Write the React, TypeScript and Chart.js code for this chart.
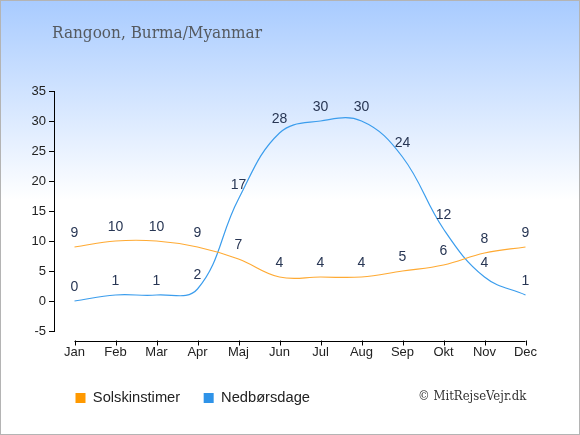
import React, { useEffect, useRef } from "react";
import { Chart, registerables } from "chart.js";

Chart.register(...registerables);

const months = ["Jan", "Feb", "Mar", "Apr", "Maj", "Jun", "Jul", "Aug", "Sep", "Okt", "Nov", "Dec"];
const sunHours = [9, 10, 10, 9, 7, 4, 4, 4, 5, 6, 8, 9];
const rainDays = [0, 1, 1, 2, 17, 28, 30, 30, 24, 12, 4, 1];
const yMin = -5;
const yMax = 35;
const yStep = 5;
const titleText = "Rangoon, Burma/Myanmar";
const sunLabel = "Solskinstimer";
const rainLabel = "Nedbørsdage";
const copyrightText = "© MitRejseVejr.dk";

const SANS = "'Liberation Sans', Arial, sans-serif";
const SERIF_COND = "'DejaVu Serif Condensed', 'DejaVu Serif', serif";

const backgroundPlugin = {
  id: "bgGradient",
  beforeDraw(chart: any) {
    const { ctx, width, height } = chart;
    ctx.save();
    const g = ctx.createLinearGradient(0, 0, 0, 200);
    g.addColorStop(0, "#a8cbff");
    g.addColorStop(1, "#ffffff");
    ctx.fillStyle = g;
    ctx.fillRect(0, 0, width, height);
    ctx.strokeStyle = "#b4b4b4";
    ctx.lineWidth = 1;
    ctx.strokeRect(0.5, 0.5, width - 1, height - 1);
    ctx.restore();
  },
};

const xAxisPlugin = {
  id: "xAxisLine",
  afterDraw(chart: any) {
    const { ctx, chartArea } = chart;
    const xs = chart.scales.x;
    const y = Math.round(chartArea.bottom + 10) + 0.5;
    const x0 = xs.getPixelForValue(0);
    const x1 = xs.getPixelForValue(months.length - 1);
    ctx.save();
    ctx.strokeStyle = "#000";
    ctx.lineWidth = 1;
    ctx.beginPath();
    ctx.moveTo(x0, y);
    ctx.lineTo(x1, y);
    for (let i = 0; i < months.length; i++) {
      const x = Math.round(xs.getPixelForValue(i)) + 0.5;
      ctx.moveTo(x, y - 1);
      ctx.lineTo(x, y + 4);
    }
    ctx.stroke();
    ctx.restore();
  },
};

const dataLabelPlugin = {
  id: "dataLabels",
  afterDatasetsDraw(chart: any) {
    const { ctx } = chart;
    ctx.save();
    ctx.font = `14px ${SANS}`;
    ctx.fillStyle = "#283654";
    ctx.textAlign = "center";
    ctx.textBaseline = "middle";
    chart.data.datasets.forEach((ds: any, di: number) => {
      const meta = chart.getDatasetMeta(di);
      meta.data.forEach((pt: any, i: number) => {
        ctx.fillText(String(ds.data[i]), pt.x, pt.y - 14);
      });
    });
    ctx.restore();
  },
};

const copyrightPlugin = {
  id: "copyright",
  afterDraw(chart: any) {
    const { ctx } = chart;
    ctx.save();
    ctx.font = `13px ${SERIF_COND}`;
    ctx.fillStyle = "#333";
    ctx.textAlign = "left";
    ctx.textBaseline = "middle";
    ctx.fillText(copyrightText, 418, 397);
    ctx.restore();
  },
};

export default function App() {
  const ref = useRef<HTMLCanvasElement | null>(null);
  useEffect(() => {
    if (!ref.current) return;
    const chart = new Chart(ref.current, {
      type: "line",
      data: {
        labels: months,
        datasets: [
          {
            label: sunLabel,
            data: sunHours,
            borderColor: "#ffaa33",
            backgroundColor: "#ff9900",
            borderWidth: 1.2,
            pointRadius: 0,
            tension: 0.4,
            fill: false,
          },
          {
            label: rainLabel,
            data: rainDays,
            borderColor: "#3b9ded",
            backgroundColor: "#2f93e8",
            borderWidth: 1.2,
            pointRadius: 0,
            tension: 0.4,
            fill: false,
          },
        ],
      },
      options: {
        responsive: false,
        animation: false,
        devicePixelRatio: 1,
        layout: { padding: { left: 52, right: 34, top: 0, bottom: 19.65 } },
        plugins: {
          title: {
            display: true,
            text: titleText,
            align: "start",
            color: "#555a60",
            font: { family: SERIF_COND, size: 17, weight: "normal" },
            padding: { top: 23.8, bottom: 46.8 },
          },
          legend: {
            display: true,
            position: "bottom",
            align: "start",
            labels: {
              boxWidth: 10,
              boxHeight: 10,
              padding: 23.5,
              color: "#222",
              font: { family: SANS, size: 14.7 },
              generateLabels: (c: any) =>
                c.data.datasets.map((ds: any, i: number) => ({
                  text: ds.label,
                  fillStyle: ds.backgroundColor,
                  strokeStyle: ds.backgroundColor,
                  lineWidth: 0,
                  hidden: false,
                  datasetIndex: i,
                  fontColor: "#222",
                })),
            },
          },
          tooltip: { enabled: false },
        },
        scales: {
          x: {
            type: "category",
            offset: true,
            grid: { display: false, drawTicks: false },
            border: { display: false },
            ticks: {
              color: "#222",
              font: { family: SANS, size: 13 },
              padding: 14,
              maxRotation: 0,
              autoSkip: false,
            },
            afterFit: (s: any) => {
              s.height = 36.15;
            },
          },
          y: {
            min: yMin,
            max: yMax,
            grid: { display: true, drawOnChartArea: false, drawTicks: true, tickLength: 5, color: "#000" },
            border: { display: true, color: "#000", width: 1 },
            ticks: {
              stepSize: yStep,
              color: "#222",
              font: { family: SANS, size: 13 },
              padding: 3,
            },
            afterFit: (s: any) => {
              s.width = 2;
              // let tick labels extend left of the narrow axis box
              s._computeLabelArea = () => undefined;
            },
          },
        },
      },
      plugins: [backgroundPlugin, xAxisPlugin, dataLabelPlugin, copyrightPlugin],
    } as any);
    return () => chart.destroy();
  }, []);
  return (
    <div style={{ position: "fixed", left: 0, top: 0, width: 580, height: 435 }}>
      <canvas ref={ref} width={580} height={435} style={{ width: 580, height: 435, display: "block" }} />
    </div>
  );
}
